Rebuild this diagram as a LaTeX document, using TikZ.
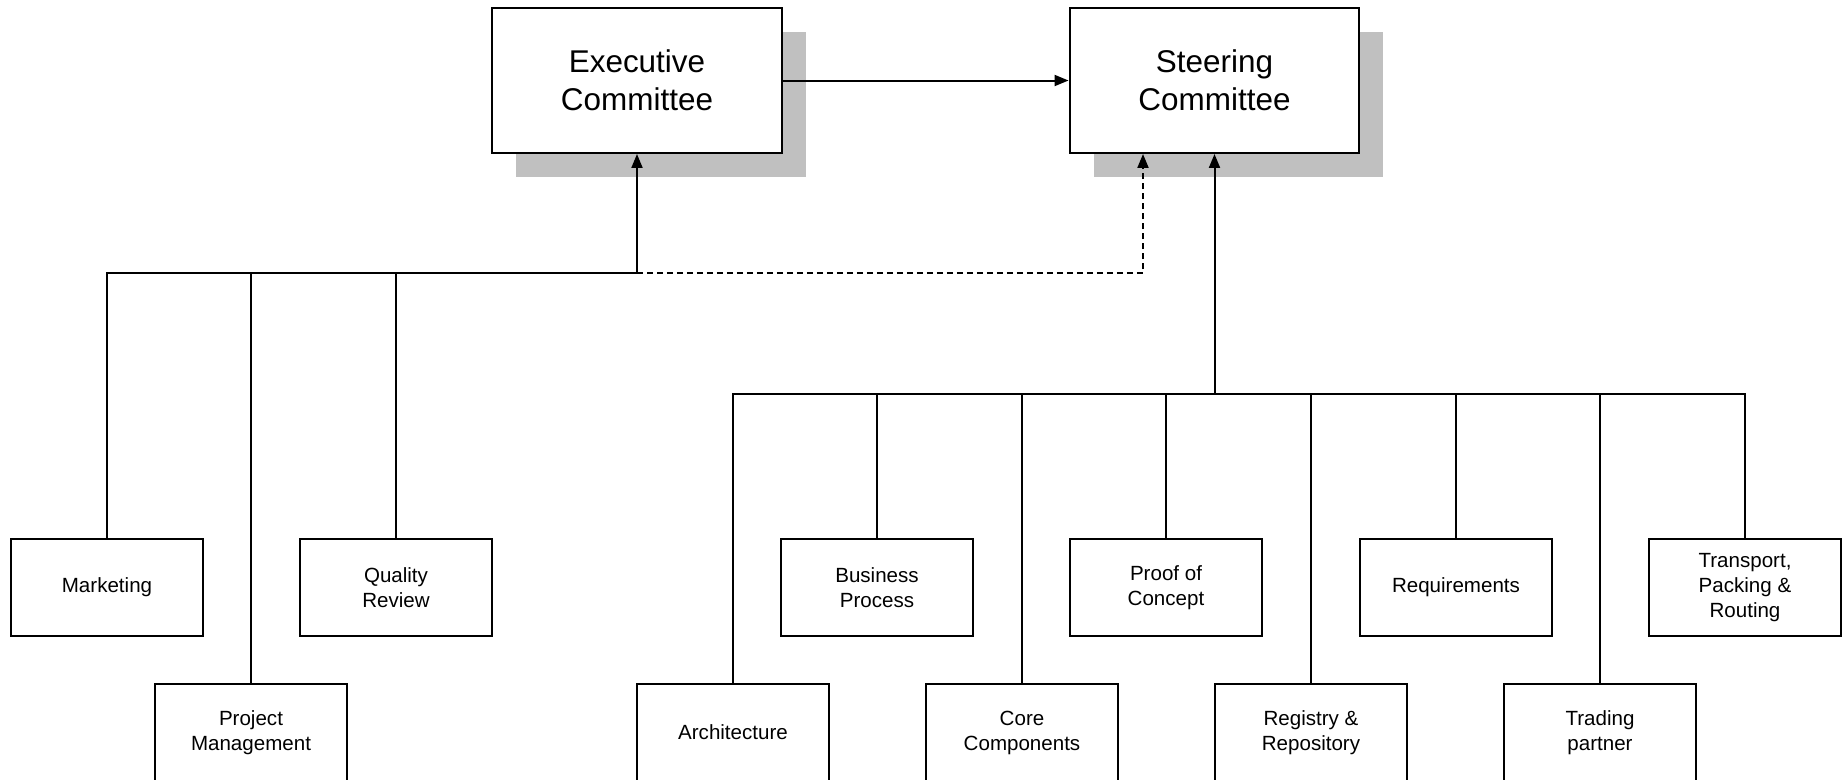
\documentclass[tikz,border=0pt]{standalone}
\usepackage{fontspec}
\setmainfont{Liberation Sans}
\usepackage{tikz}
\usetikzlibrary{arrows.meta,calc,shadows}
\definecolor{shade}{HTML}{C0C0C0}
\tikzset{
  conn/.style={line width=0.04cm, draw=black},
  uparr/.style={conn, -{Triangle[length=0.28cm,width=0.22cm]}},
  dasharr/.style={uparr, dash pattern=on 0.12cm off 0.08cm},
  unit/.style={draw=black, line width=0.04cm, fill=white, align=center,
    minimum width=3.84cm, minimum height=1.94cm, inner sep=0pt,
    font=\fontsize{11.7}{14.2}\selectfont},
  board/.style={unit, minimum width=5.8cm, minimum height=2.9cm,
    font=\fontsize{17.9}{21.4}\selectfont,
    drop shadow={shadow xshift=0.48cm, shadow yshift=-0.48cm, fill=shade, opacity=1}}
}

\begin{document}
\begin{tikzpicture}[x=0.02cm, y=-0.02cm]
  \useasboundingbox (0,0) rectangle (1847,779);
  % committees
  \node[board] (exec)  at (637,80.5)  {Executive\\Committee};
  \node[board] (steer) at (1214.5,80.5) {Steering\\Committee};
  % left group
  \node[unit] (mkt) at (107,587.5) {Marketing};
  \node[unit] (pm)  at (251,732.5) {Project\\Management};
  \node[unit] (qr)  at (396,587.5) {Quality\\Review};
  % right group
  \node[unit] (arch)  at (733,732.5)  {Architecture};
  \node[unit] (bp)    at (877,587.5)  {Business\\Process};
  \node[unit] (cc)    at (1022,732.5) {Core\\Components};
  \node[unit] (poc)   at (1166,587.5) {Proof of\\Concept};
  \node[unit] (reg)   at (1311,732.5) {Registry \&\\Repository};
  \node[unit] (req)   at (1456,587.5) {Requirements};
  \node[unit] (tp)    at (1600,732.5) {Trading\\partner};
  \node[unit] (trans) at (1745,587.5) {Transport,\\Packing \&\\Routing};
  \coordinate (lbus) at (637,273);
  \coordinate (rbus) at (1214.5,394);
  \coordinate (dtip) at ($(steer.south)+(-71.5,0)$);
  % connectors
  \draw[uparr] (exec.east) -- (steer.west);
  \draw[conn] (mkt.north) |- (lbus);
  \foreach \n in {pm,qr} \draw[conn] (\n.north) -- (\n.north |- lbus);
  \draw[uparr] (lbus) -- (exec.south);
  \draw[dasharr] (lbus) -| (dtip);
  \draw[conn] (arch.north) |- (rbus) -| (trans.north);
  \foreach \n in {bp,cc,poc,reg,req,tp} \draw[conn] (\n.north) -- (\n.north |- rbus);
  \draw[uparr] (rbus) -- (steer.south);
\end{tikzpicture}
\end{document}
